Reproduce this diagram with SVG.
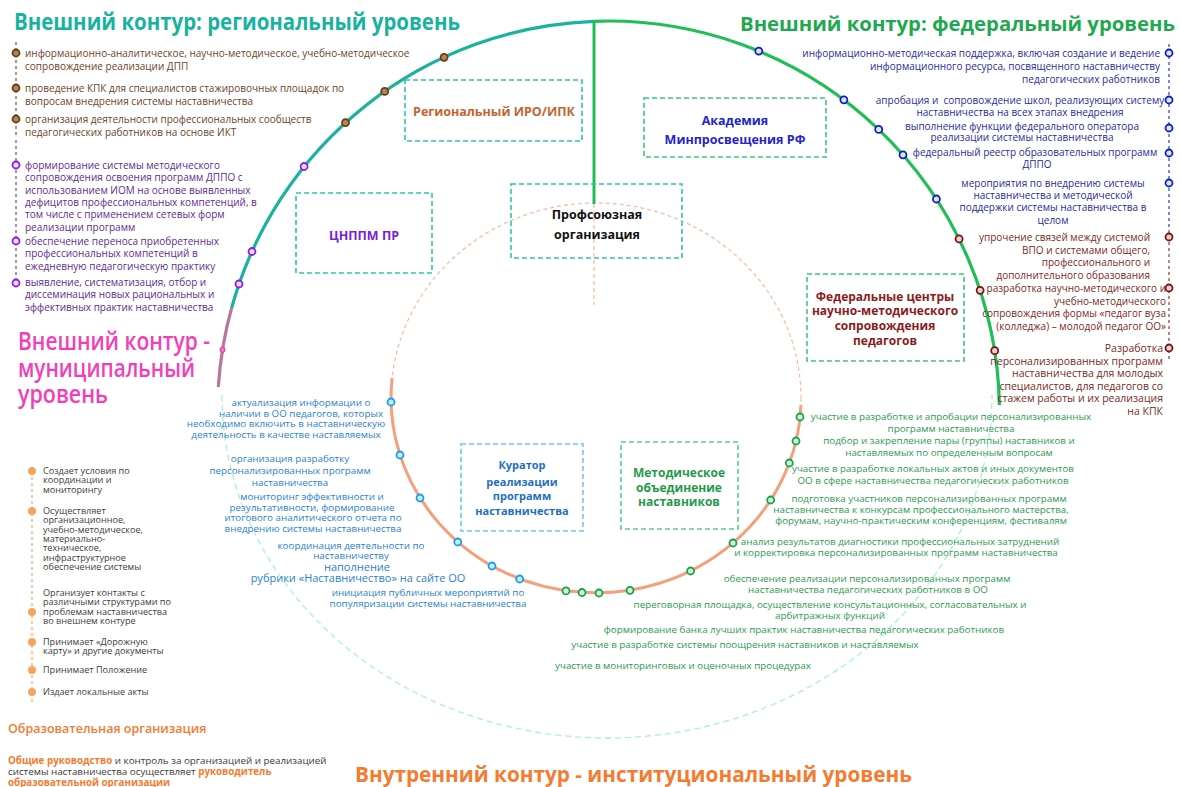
<svg xmlns="http://www.w3.org/2000/svg" width="1180" height="787" viewBox="0 0 1180 787" font-size="10">
<style>
text{font-family:"Open Sans","Noto Sans","DejaVu Sans",sans-serif}
.b{font-weight:700}
.m{text-anchor:middle}
.e{text-anchor:end}
.reg{fill:#6e4326}
.pur{fill:#5f2b8f}
.fed{fill:#2b2b9c}
.red{fill:#7a2a24}
.blu{fill:#2a82cf}
.grn{fill:#2e9a50}
.gry{fill:#3c3c3c;font-size:9.1px}
.or{fill:#f47b30}
.bx{fill:none;stroke-width:1.6;stroke-dasharray:5 3}
.tl{stroke:#2ec4b0}
.gl{stroke:#3cc874}
.lb{stroke:#6cc6f0}
.dt{stroke-width:1.8}
.dBr{stroke:#6b3b1c;fill:#b08850}
.dPu{stroke:#8a1fd6;fill:#ead6ff}
.dBl{stroke:#0b1fbf;fill:#dfe6ff}
.dRd{stroke:#7a1414;fill:#ecd0d0}
.dIb{stroke:#17a0e8;fill:#c8ecff}
.dIg{stroke:#16a34a;fill:#d4f3dc}
.dOr{fill:#f7a35c}
</style>
<rect width="1180" height="787" fill="#ffffff"/>

<g id="connectors" fill="none">
  <path d="M222,395 A385,343 0 0 0 992,395" stroke="#a8f0dc" stroke-width="1.3" stroke-dasharray="6 4"/>
  <ellipse cx="596" cy="398" rx="205" ry="195" stroke="#f8b595" stroke-width="1.1" stroke-dasharray="4 3"/>
  <path d="M800.9,405 A205,195 0 1 1 392.1,378" stroke="#f4a07a" stroke-width="3"/>
  <line x1="594" y1="204" x2="594" y2="305" stroke="#f8b595" stroke-width="1.1" stroke-dasharray="4 3"/>
  <path d="M594,21.3 A391,391 0 0 0 231.6,308" stroke="#19b39c" stroke-width="3.2"/>
  <path d="M231.6,308 A391,391 0 0 0 218.3,387" stroke="#b8779e" stroke-width="3.2"/>
  <path d="M594,21.3 A391,391 0 0 1 999.4,405" stroke="#1fbf55" stroke-width="3.2"/>
  <line x1="594" y1="21.3" x2="594" y2="204" stroke="#1fbf55" stroke-width="3"/>
  <line x1="16" y1="42" x2="16" y2="138" stroke="#7a4a2a" stroke-width="1.2" stroke-dasharray="3 3"/>
  <line x1="16" y1="140" x2="16" y2="290" stroke="#7a3ab5" stroke-width="1.2" stroke-dasharray="3 3"/>
  <line x1="1169" y1="44" x2="1169" y2="228" stroke="#2a3cc4" stroke-width="1.2" stroke-dasharray="3 3"/>
  <line x1="1169" y1="230" x2="1169" y2="360" stroke="#8b3a3a" stroke-width="1.2" stroke-dasharray="3 3"/>
  <line x1="32" y1="471" x2="32" y2="703" stroke="#f9a77a" stroke-width="1.3" stroke-dasharray="3 3"/>
</g>

<g id="markers" class="dt">
  <circle class="dBr" cx="444.1" cy="57.3" r="3.5"/>
  <circle class="dBr" cx="384.7" cy="91.4" r="3.5"/>
  <circle class="dBr" cx="345.5" cy="122.7" r="3.5"/>
  <circle class="dPu" cx="304.1" cy="166.5" r="3.5"/>
  <circle class="dPu" cx="252" cy="251.5" r="3.5"/>
  <circle class="dPu" cx="239" cy="284" r="3.5"/>
  <circle cx="222.5" cy="349.8" r="2.6" fill="#f070c8" stroke="#d040a0" stroke-width="1"/>
  <circle class="dBr" cx="16" cy="53" r="3.5"/>
  <circle class="dBr" cx="16" cy="88" r="3.5"/>
  <circle class="dBr" cx="16" cy="119" r="3.5"/>
  <circle class="dPu" cx="16" cy="165" r="3.5"/>
  <circle class="dPu" cx="16" cy="241" r="3.5"/>
  <circle class="dPu" cx="16" cy="283" r="3.5"/>
  <circle class="dBl" cx="758.8" cy="51.1" r="3.5"/>
  <circle class="dBl" cx="843.9" cy="99.8" r="3.5"/>
  <circle class="dBl" cx="878.7" cy="129.4" r="3.5"/>
  <circle class="dBl" cx="903" cy="154.8" r="3.5"/>
  <circle class="dBl" cx="936.4" cy="199" r="3.5"/>
  <circle class="dRd" cx="959.1" cy="238.9" r="3.5"/>
  <circle class="dRd" cx="980.1" cy="290.3" r="3.5"/>
  <circle class="dRd" cx="994.7" cy="350.7" r="3.5"/>
  <circle class="dBl" cx="1169" cy="53" r="3.5"/>
  <circle class="dBl" cx="1169" cy="100" r="3.5"/>
  <circle class="dBl" cx="1169" cy="128" r="3.5"/>
  <circle class="dBl" cx="1169" cy="153" r="3.5"/>
  <circle class="dBl" cx="1169" cy="183" r="3.5"/>
  <circle class="dRd" cx="1169" cy="237" r="3.5"/>
  <circle class="dRd" cx="1169" cy="288" r="3.5"/>
  <circle class="dRd" cx="1169" cy="348" r="3.5"/>
  <circle class="dIb" cx="391" cy="402" r="3.5"/>
  <circle class="dIb" cx="400" cy="455" r="3.5"/>
  <circle class="dIb" cx="420" cy="498" r="3.5"/>
  <circle class="dIb" cx="457.8" cy="542" r="3.5"/>
  <circle class="dIb" cx="492" cy="566" r="3.5"/>
  <circle class="dIb" cx="519.7" cy="579" r="3.5"/>
  <circle class="dIg" cx="800" cy="417" r="3.5"/>
  <circle class="dIg" cx="796" cy="441" r="3.5"/>
  <circle class="dIg" cx="789.3" cy="463" r="3.5"/>
  <circle class="dIg" cx="770.7" cy="500" r="3.5"/>
  <circle class="dIg" cx="733" cy="543" r="3.5"/>
  <circle class="dIg" cx="690.6" cy="571" r="3.5"/>
  <circle class="dIg" cx="630" cy="590.3" r="3.5"/>
  <circle class="dIg" cx="599" cy="593" r="3.5"/>
  <circle class="dIg" cx="582" cy="592.5" r="3.5"/>
  <circle class="dIg" cx="566" cy="590.9" r="3.5"/>
  <circle class="dOr" cx="32" cy="471" r="4"/>
  <circle class="dOr" cx="32" cy="511" r="4"/>
  <circle class="dOr" cx="32" cy="612" r="4"/>
  <circle class="dOr" cx="32" cy="642" r="4"/>
  <circle class="dOr" cx="32" cy="670" r="4"/>
  <circle class="dOr" cx="32" cy="692" r="4"/>
</g>

<g id="titles">
  <text x="14" y="30" font-size="23" class="b" fill="#17b39e" textLength="446" lengthAdjust="spacingAndGlyphs">Внешний контур: региональный уровень</text>
  <text x="740" y="31" font-size="20" class="b" fill="#1fa84f" textLength="435" lengthAdjust="spacingAndGlyphs">Внешний контур: федеральный уровень</text>
  <text x="18" y="350" font-size="25" font-weight="600" fill="#f23fb8" textLength="192" lengthAdjust="spacingAndGlyphs">Внешний контур -</text>
  <text x="18" y="377" font-size="25" font-weight="600" fill="#f23fb8" textLength="177" lengthAdjust="spacingAndGlyphs">муниципальный</text>
  <text x="18" y="403" font-size="25" font-weight="600" fill="#f23fb8" textLength="90" lengthAdjust="spacingAndGlyphs">уровень</text>
  <text x="355" y="782" font-size="22" class="b or" textLength="557" lengthAdjust="spacingAndGlyphs">Внутренний контур - институциональный уровень</text>
</g>

<g id="regional-list">
  <text class="reg" x="25" y="57">информационно-аналитическое, научно-методическое, учебно-методическое</text>
  <text class="reg" x="25" y="70">сопровождение реализации ДПП</text>
  <text class="reg" x="25" y="92">проведение КПК для специалистов стажировочных площадок по</text>
  <text class="reg" x="25" y="105">вопросам внедрения системы наставничества</text>
  <text class="reg" x="25" y="122.5">организация деятельности профессиональных сообществ</text>
  <text class="reg" x="25" y="136">педагогических работников на основе ИКТ</text>
  <text class="pur" x="25" y="169">формирование системы методического</text>
  <text class="pur" x="25" y="181">сопровождения освоения программ ДППО с</text>
  <text class="pur" x="25" y="193.5">использованием ИОМ на основе выявленных</text>
  <text class="pur" x="25" y="206">дефицитов профессиональных компетенций, в</text>
  <text class="pur" x="25" y="218">том числе с применением сетевых форм</text>
  <text class="pur" x="25" y="230.5">реализации программ</text>
  <text class="pur" x="25" y="244.5">обеспечение переноса приобретенных</text>
  <text class="pur" x="25" y="256.5">профессиональных компетенций в</text>
  <text class="pur" x="25" y="269.5">ежедневную педагогическую практику</text>
  <text class="pur" x="25" y="285.5">выявление, систематизация, отбор и</text>
  <text class="pur" x="25" y="298">диссеминация новых рациональных и</text>
  <text class="pur" x="25" y="310.5">эффективных практик наставничества</text>
</g>

<g id="federal-list">
  <text class="fed e" x="1160" y="56.5">информационно-методическая поддержка, включая создание и ведение</text>
  <text class="fed e" x="1160" y="70">информационного ресурса, посвященного наставничеству</text>
  <text class="fed e" x="1160" y="82.5">педагогических работников</text>
  <text class="fed m" x="1020" y="103.5" xml:space="preserve">апробация и  сопровождение школ, реализующих систему</text>
  <text class="fed m" x="1020" y="115.5">наставничества на всех этапах внедрения</text>
  <text class="fed m" x="1022" y="130">выполнение функции федерального оператора</text>
  <text class="fed m" x="1022" y="141">реализации системы наставничества</text>
  <text class="fed m" x="1035" y="155.5">федеральный реестр образовательных программ</text>
  <text class="fed m" x="1037" y="167.5">ДППО</text>
  <text class="fed m" x="1053" y="186.5">мероприятия по внедрению системы</text>
  <text class="fed m" x="1053" y="198.5">наставничества и методической</text>
  <text class="fed m" x="1053" y="211">поддержки системы наставничества в</text>
  <text class="fed m" x="1053" y="224">целом</text>
  <text class="red e" x="1150" y="240.5">упрочение связей между системой</text>
  <text class="red e" x="1150" y="253.5">ВПО и системами общего,</text>
  <text class="red e" x="1150" y="265.5">профессионального и</text>
  <text class="red e" x="1150" y="278.5">дополнительного образования</text>
  <text class="red e" x="1166" y="292">разработка научно-методического и</text>
  <text class="red e" x="1166" y="304.5">учебно-методического</text>
  <text class="red e" x="1166" y="316.5">сопровождения формы «педагог вуза</text>
  <text class="red e" x="1166" y="329.5">(колледжа) – молодой педагог ОО»</text>
  <text class="red e" x="1163" y="351.5" font-size="10.5">Разработка</text>
  <text class="red e" x="1163" y="365" font-size="10.5">персонализированных программ</text>
  <text class="red e" x="1163" y="377" font-size="10.5">наставничества для молодых</text>
  <text class="red e" x="1163" y="389.5" font-size="10.5">специалистов, для педагогов со</text>
  <text class="red e" x="1163" y="401.5" font-size="10.5">стажем работы и их реализация</text>
  <text class="red e" x="1163" y="414.5" font-size="10.5">на КПК</text>
</g>

<g id="curator-tasks" font-size="9.8">
  <text class="blu m" x="301" y="405.5">актуализация информации о</text>
  <text class="blu m" x="301" y="416.5">наличии в ОО педагогов, которых</text>
  <text class="blu m" x="286" y="427">необходимо включить в наставническую</text>
  <text class="blu m" x="286" y="437.5">деятельность в качестве наставляемых</text>
  <text class="blu m" x="290" y="462">организация разработку</text>
  <text class="blu m" x="290" y="474">персонализированных программ</text>
  <text class="blu m" x="290" y="486">наставничества</text>
  <text class="blu m" x="312" y="500">мониторинг эффективности и</text>
  <text class="blu m" x="312" y="510.5">результативности, формирование</text>
  <text class="blu m" x="313" y="521">итогового аналитического отчета по</text>
  <text class="blu m" x="313" y="531.5">внедрению системы наставничества</text>
  <text class="blu m" x="351" y="549">координация деятельности по</text>
  <text class="blu m" x="351" y="558.5">наставничеству</text>
  <text class="blu m" x="357" y="570.5" font-size="11">наполнение</text>
  <text class="blu m" x="358" y="581.5" font-size="11">рубрики «Наставничество» на сайте ОО</text>
  <text class="blu m" x="428" y="596">инициация публичных мероприятий по</text>
  <text class="blu m" x="428" y="607">популяризации системы наставничества</text>
</g>

<g id="mo-tasks" font-size="9.8">
  <text class="grn m" x="951" y="419.5">участие в разработке и апробации персонализированных</text>
  <text class="grn m" x="951" y="431.5">программ наставничества</text>
  <text class="grn m" x="949" y="444">подбор и закрепление пары (группы) наставников и</text>
  <text class="grn m" x="949" y="455.5">наставляемых по определенным вопросам</text>
  <text class="grn m" x="933" y="472">участие в разработке локальных актов и иных документов</text>
  <text class="grn m" x="933" y="483.5">ОО в сфере наставничества педагогических работников</text>
  <text class="grn m" x="929" y="502">подготовка участников персонализированных программ</text>
  <text class="grn m" x="921" y="513">наставничества к конкурсам профессионального мастерства,</text>
  <text class="grn m" x="921" y="524">форумам, научно-практическим конференциям, фестивалям</text>
  <text class="grn m" x="900" y="544.5">анализ результатов диагностики профессиональных затруднений</text>
  <text class="grn m" x="896" y="555.5">и корректировка персонализированных программ наставничества</text>
  <text class="grn m" x="867" y="581.5">обеспечение реализации персонализированных программ</text>
  <text class="grn m" x="868" y="592.5">наставничества педагогических работников в ОО</text>
  <text class="grn m" x="830" y="607.5">переговорная площадка, осуществление консультационных, согласовательных и</text>
  <text class="grn m" x="830" y="618.5">арбитражных функций</text>
  <text class="grn m" x="804" y="632.5">формирование банка лучших практик наставничества педагогических работников</text>
  <text class="grn m" x="745" y="648">участие в разработке системы поощрения наставников и наставляемых</text>
  <text class="grn m" x="683" y="669">участие в мониторинговых и оценочных процедурах</text>
</g>

<g id="director-list">
  <text class="gry" x="43" y="474">Создает условия по</text>
  <text class="gry" x="43" y="483.3">координации и</text>
  <text class="gry" x="43" y="492.6">мониторингу</text>
  <text class="gry" x="43" y="514">Осуществляет</text>
  <text class="gry" x="43" y="523.3">организационное,</text>
  <text class="gry" x="43" y="532.6">учебно-методическое,</text>
  <text class="gry" x="43" y="541.9">материально-</text>
  <text class="gry" x="43" y="551.2">техническое,</text>
  <text class="gry" x="43" y="560.5">инфраструктурное</text>
  <text class="gry" x="43" y="569.8">обеспечение системы</text>
  <text class="gry" x="43" y="596">Организует контакты с</text>
  <text class="gry" x="43" y="605.3">различными структурами по</text>
  <text class="gry" x="43" y="614.6">проблемам наставничества</text>
  <text class="gry" x="43" y="623.9">во внешнем контуре</text>
  <text class="gry" x="43" y="645">Принимает «Дорожную</text>
  <text class="gry" x="43" y="654.3">карту» и другие документы</text>
  <text class="gry" x="43" y="673">Принимает Положение</text>
  <text class="gry" x="43" y="695">Издает локальные акты</text>
</g>

<g id="edu-org">
  <text x="8" y="733" font-size="12.5" font-weight="600" class="or">Образовательная организация</text>
  <text x="8" y="763.5" font-size="9.8"><tspan class="b or">Общие руководство</tspan><tspan fill="#3a3a3a"> и контроль за организацией и реализацией</tspan></text>
  <text x="8" y="775" font-size="9.8"><tspan fill="#3a3a3a">системы наставничества осуществляет </tspan><tspan class="b or">руководитель</tspan></text>
  <text x="8" y="786" font-size="9.8" class="b or">образовательной организации</text>
</g>

<g id="node-regional-iro">
  <rect class="bx tl" x="405" y="80" width="177" height="61"/>
  <text class="b m" x="494" y="116" font-size="12.5" fill="#c0652e">Региональный ИРО/ИПК</text>
</g>
<g id="node-cnppm">
  <rect class="bx tl" x="296" y="193" width="136" height="80"/>
  <text class="b m" x="364" y="239.5" font-size="12.5" fill="#7a22d0">ЦНППМ ПР</text>
</g>
<g id="node-academy">
  <rect class="bx gl" x="644" y="98" width="182" height="59"/>
  <text class="b m" x="735" y="125" font-size="12.5" fill="#2424cc">Академия</text>
  <text class="b m" x="735" y="143.5" font-size="12.5" fill="#2424cc">Минпросвещения РФ</text>
</g>
<g id="node-union">
  <rect class="bx tl" x="511" y="184" width="171" height="74"/>
  <text class="b m" x="597" y="219" font-size="12.5" fill="#111111">Профсоюзная</text>
  <text class="b m" x="597" y="238.5" font-size="12.5" fill="#111111">организация</text>
</g>
<g id="node-federal-centers">
  <rect class="bx gl" x="807" y="274" width="157" height="87"/>
  <text class="b m" x="885" y="300.5" font-size="12" fill="#8b1c1c">Федеральные центры</text>
  <text class="b m" x="885" y="315" font-size="12" fill="#8b1c1c">научно-методического</text>
  <text class="b m" x="885" y="329.5" font-size="12" fill="#8b1c1c">сопровождения</text>
  <text class="b m" x="885" y="345" font-size="12" fill="#8b1c1c">педагогов</text>
</g>
<g id="node-curator">
  <rect class="bx lb" x="461" y="444" width="122" height="87"/>
  <text class="b m" x="522" y="469" font-size="11" fill="#1f70c0">Куратор</text>
  <text class="b m" x="522" y="485.5" font-size="11" fill="#1f70c0">реализации</text>
  <text class="b m" x="522" y="500" font-size="11" fill="#1f70c0">программ</text>
  <text class="b m" x="522" y="514.5" font-size="11" fill="#1f70c0">наставничества</text>
</g>
<g id="node-method-union">
  <rect class="bx" x="621" y="442" width="117" height="87" stroke="#5ccc88"/>
  <text class="b m" x="679" y="476.5" font-size="12" fill="#1f9a4a">Методическое</text>
  <text class="b m" x="679" y="491.5" font-size="12" fill="#1f9a4a">объединение</text>
  <text class="b m" x="679" y="506" font-size="12" fill="#1f9a4a">наставников</text>
</g>
</svg>
